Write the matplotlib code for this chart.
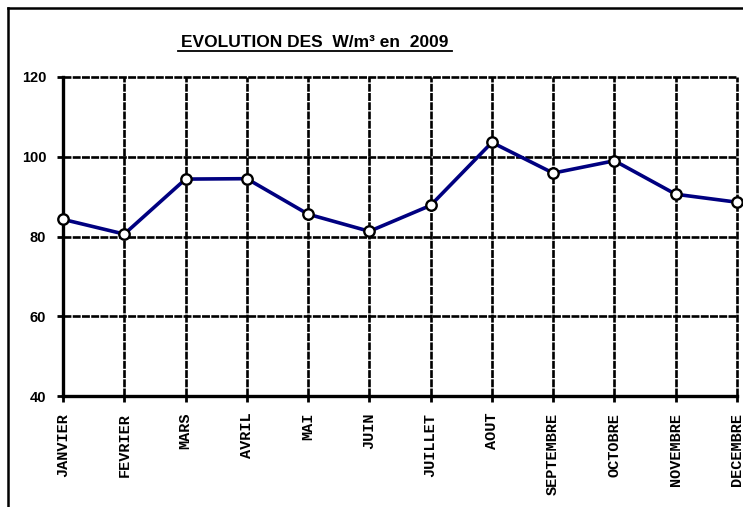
import matplotlib
matplotlib.use("Agg")
import matplotlib.pyplot as plt
from matplotlib.lines import Line2D

months = ["JANVIER", "FEVRIER", "MARS", "AVRIL", "MAI", "JUIN",
          "JUILLET", "AOUT", "SEPTEMBRE", "OCTOBRE", "NOVEMBRE", "DECEMBRE"]
values = [84.3, 80.6, 94.4, 94.5, 85.6, 81.3, 87.8, 103.6, 95.9, 99.0, 90.6, 88.6]
yticks = [40, 60, 80, 100, 120]
title = "EVOLUTION DES  W/m³ en  2009"

W, H = 743, 507
fig = plt.figure(figsize=(W / 100, H / 100), dpi=100)
ax = fig.add_axes([63 / W, 1 - 396 / H, (737 - 63) / W, (396 - 77) / H])

x = list(range(len(months)))
ax.set_xlim(0, len(months) - 1)
ax.set_ylim(40, 120)

# grid
gls = (0, (3.0, 0.5))
for yv in yticks[1:]:
    ax.axhline(yv, color="black", lw=1.9, ls=gls, zorder=1, clip_on=False)
for xv in x[1:]:
    ax.axvline(xv, color="black", lw=1.9, ls=gls, zorder=1, clip_on=False)

ax.plot(x, values, color="#000080", lw=2.6, marker="o", ms=7.5,
        mfc="white", mec="black", mew=1.7, zorder=3, clip_on=False)

for s in ["top", "right"]:
    ax.spines[s].set_visible(False)
for s in ["left", "bottom"]:
    ax.spines[s].set_linewidth(2.4)
    ax.spines[s].set_zorder(2)

ax.set_yticks(yticks)
ax.set_yticklabels([str(v) for v in yticks], fontsize=10.5, fontweight="bold",
                   family="Liberation Sans")
ax.set_xticks(x)
ax.set_xticklabels(months, rotation=90, fontsize=11, fontweight="bold",
                   family="Liberation Mono", va="top", ha="center")
ax.tick_params(axis="both", direction="out", length=4, width=2)
ax.tick_params(axis="y", pad=8)
ax.tick_params(axis="x", pad=8)

fig.text(315 / W, 1 - 47 / H, title, ha="center", va="baseline",
         fontsize=12.5, fontweight="bold", family="Liberation Sans")
fig.add_artist(Line2D([178 / W, 452 / W], [1 - 51 / H, 1 - 51 / H],
                      transform=fig.transFigure, color="black", lw=1.3))

# outer frame (clipped at right and bottom)
fig.add_artist(Line2D([8 / W, 8 / W], [0, 1 - 8 / H], transform=fig.transFigure,
                      color="black", lw=1.8))
fig.add_artist(Line2D([8 / W, 1], [1 - 8 / H, 1 - 8 / H], transform=fig.transFigure,
                      color="black", lw=1.8))

fig.savefig("out.png", dpi=100)
